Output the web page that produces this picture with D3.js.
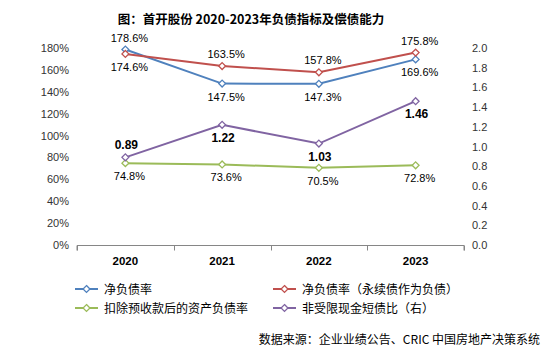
<!DOCTYPE html>
<html><head><meta charset="utf-8">
<script src="https://cdn.jsdelivr.net/npm/d3@7"></script>
<style>body{margin:0;background:#fff}svg{display:block}</style>
</head><body>
<script>
const years = ["2020","2021","2022","2023"];
const netDebt = [178.6,147.5,147.3,169.6];
const netDebtPerp = [174.6,163.5,157.8,175.8];
const assetLiab = [74.8,73.6,70.5,72.8];
const cashShort = [0.89,1.22,1.03,1.46];
const leftTicks = [0,20,40,60,80,100,120,140,160,180];
const rightTicks = [0,0.2,0.4,0.6,0.8,1.0,1.2,1.4,1.6,1.8,2.0];

const W=544,H=352;
const svg=d3.select("body").append("svg").attr("width",W).attr("height",H);
const font='"Noto Sans CJK SC","Noto Sans",sans-serif';
const x=d3.scaleBand().domain(years).range([77,464]);
const yL=d3.scaleLinear().domain([0,180]).range([245,48]);
const yR=d3.scaleLinear().domain([0,2]).range([245,48]);

svg.append("text").attr("x",251).attr("y",24).attr("text-anchor","middle")
 .attr("font-family",font).attr("font-weight","bold").attr("font-size",12.5).attr("fill","#000")
 .text("图：首开股份 2020-2023年负债指标及偿债能力");

// left axis labels
svg.append("g").selectAll("text").data(leftTicks).join("text")
 .attr("x",69).attr("y",d=>yL(d)+4).attr("text-anchor","end")
 .attr("font-family","'Liberation Sans',sans-serif").attr("font-size",11).attr("fill","#333")
 .text(d=>d+"%");
svg.append("g").selectAll("text").data(rightTicks).join("text")
 .attr("x",472).attr("y",d=>yR(d)+4).attr("text-anchor","start")
 .attr("font-family","'Liberation Sans',sans-serif").attr("font-size",11).attr("fill","#333")
 .text(d=>d.toFixed(1));

// bottom axis
const ax=svg.append("g").attr("transform","translate(0,245.5)")
 .call(d3.axisBottom(x).tickSize(0).tickFormat(""));
ax.select(".domain").attr("stroke","#868686").attr("d","M77,5V0H464V5");
const bounds=[77,...years.slice(1).map(d=>x(d)),464];
svg.append("g").selectAll("line").data(bounds).join("line")
 .attr("x1",d=>Math.round(d)+0.5).attr("x2",d=>Math.round(d)+0.5).attr("y1",245.5).attr("y2",250.5)
 .attr("stroke","#868686");
svg.append("g").selectAll("text").data(years).join("text")
 .attr("x",d=>x(d)+x.bandwidth()/2).attr("y",265).attr("text-anchor","middle")
 .attr("font-family","'Liberation Sans',sans-serif").attr("font-weight","bold").attr("font-size",11.5).attr("fill","#000")
 .text(d=>d);

const cx=d=>x(d)+x.bandwidth()/2;
const series=[
 {vals:netDebt,y:yL,color:"#4F81BD",fmt:v=>v.toFixed(1)+"%",pos:[-1,1,1,1],bold:false},
 {vals:netDebtPerp,y:yL,color:"#C0504D",fmt:v=>v.toFixed(1)+"%",pos:[1,-1,-1,-1],bold:false},
 {vals:assetLiab,y:yL,color:"#9BBB59",fmt:v=>v.toFixed(1)+"%",pos:[1,1,1,1],bold:false},
 {vals:cashShort,y:yR,color:"#8064A2",fmt:v=>v.toFixed(2),pos:[-1,1,1,1],bold:true}
];
const diamond=d3.symbol().type(d3.symbolDiamond2).size(30);
series.forEach(s=>{
 const pts=years.map((d,i)=>[cx(d),s.y(s.vals[i])]);
 svg.append("path").attr("d",d3.line()(pts)).attr("fill","none").attr("stroke",s.color).attr("stroke-width",2);
 svg.append("g").selectAll("path").data(pts).join("path")
  .attr("transform",p=>`translate(${p[0]},${p[1]})`).attr("d",diamond)
  .attr("fill","#fff").attr("stroke",s.color).attr("stroke-width",1.3);
 svg.append("g").selectAll("text").data(pts).join("text")
  .attr("x",(p,i)=>p[0]+(s.bold?1:4)).attr("y",(p,i)=>p[1]+(s.pos[i]<0?-8:17))
  .attr("text-anchor","middle").attr("font-family","'Liberation Sans',sans-serif")
  .attr("font-size",s.bold?12:11).attr("font-weight",s.bold?"bold":"normal").attr("fill","#000")
  .text((p,i)=>s.fmt(s.vals[i]));
});

// legend
const leg=[
 {t:"净负债率",c:"#4F81BD",x:75,y:289},
 {t:"净负债率（永续债作为负债）",c:"#C0504D",x:273,y:289},
 {t:"扣除预收款后的资产负债率",c:"#9BBB59",x:75,y:308},
 {t:"非受限现金短债比（右）",c:"#8064A2",x:273,y:308}
];
const lg=svg.append("g").selectAll("g").data(leg).join("g").attr("transform",d=>`translate(${d.x},${d.y})`);
lg.append("line").attr("x1",0).attr("x2",23).attr("stroke",d=>d.c).attr("stroke-width",2);
lg.append("path").attr("transform","translate(11.5,0)").attr("d",diamond).attr("fill","#fff").attr("stroke",d=>d.c).attr("stroke-width",1.3);
lg.append("text").attr("x",29).attr("y",4.5).attr("font-family",font).attr("font-size",12).attr("fill","#000").text(d=>d.t);

svg.append("text").attr("x",540).attr("y",344).attr("text-anchor","end")
 .attr("font-family",font).attr("font-size",12).attr("fill","#000")
 .text("数据来源：企业业绩公告、CRIC 中国房地产决策系统");
</script>
</body></html>
